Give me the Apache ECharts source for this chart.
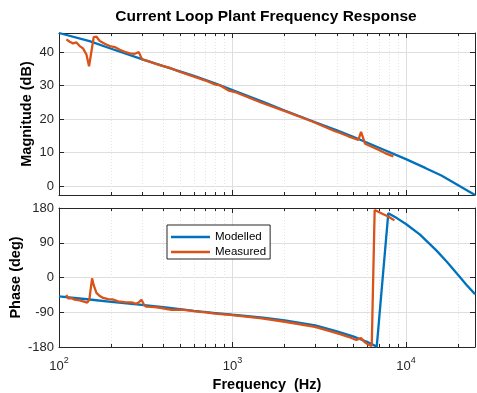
<!DOCTYPE html>
<html>
<head>
<meta charset="utf-8">
<script src="https://cdn.jsdelivr.net/npm/echarts@6/dist/echarts.min.js"></script>
<style>
html,body{margin:0;padding:0;background:#fff;}
#c{width:477px;height:393px;}
</style>
</head>
<body>
<div id="c"></div>
<script>
// ---- Modelled response ----
const modelFreqs = [100,150,200,300,400,600,800,1000,1500,2000,3000,4000,5000,7000,10000,13000,16000,20000,25000];
const modelMag   = [45.7,43.3,41.0,37.9,35.8,32.9,30.6,28.7,25.2,22.6,19.1,16.7,14.7,11.5,8.1,5.4,3.2,0.3,-2.6];

const modelPhaseFreqs = [100,150,200,300,400,600,800,1000,1500,2000,3000,4000,5000,6000,6785,7910,8850,10000,12050,15060,17200,20050,22420,25000];
const modelPhase      = [-49,-57,-63,-71,-76.5,-86.5,-92,-96.5,-104,-111,-124,-139.5,-153,-167,-179,166.5,153.8,138.5,111,69,41,6,-20,-43];

// ---- Measured response ----
const measMagFreqs = [110.3,115.3,120.4,126,131.6,137.5,143.9,149,158.6,164.4,171.8,183.5,196.2,209.6,224,239.4,255.9,273.4,288.4,301.3,326.4,356.6,389.8,435.3,486.1,555.1,648.5,693,791,846,944,1033,1472,2005,2858,3900,4170,4654,5315,5510,5808,6349,6936,7575,8460];
const measMag      = [43.8,43.1,42.6,42.9,41.8,41.1,39.3,35.8,44.5,44.6,43.3,42.5,41.8,41.5,40.7,40.1,39.6,39.5,40.0,37.8,37.3,36.6,36.0,35.3,34.3,33.3,32.1,31.6,30.4,30.1,28.6,28.1,24.9,22.4,19.4,16.4,15.9,14.9,13.8,16.2,12.7,11.8,10.9,9.9,8.9];

const measPhaseFreqs = [110.3,112.7,118,123.2,131.6,140.6,145.5,149.5,155.1,158.5,164.4,172,179.8,191.9,205,219,239.4,262,279.7,290,299,310,319,356.6,389.8,445,508,555,648,707,791,1000,1472,2005,2985,3900,4170,4654,5170,5510,5808,6080,6349,6600,7406,7910,8575];
const measPhase      = [-45,-54,-53.5,-57.5,-59.5,-63,-65,-58,-2,-20,-40,-48,-53,-56,-57,-62,-64,-64.5,-68,-63,-57.6,-72,-75.5,-76.5,-79,-84,-83,-85,-89,-90.5,-93.3,-97.5,-106,-114.6,-128,-142.6,-146.7,-153.6,-162,-157,-168,-174,-177.5,175,164,158,148];

// ---- Axes ticks ----
const decadeTicks = [100, 1000, 10000];
const minorFreqs = [200,300,400,500,600,700,800,900,2000,3000,4000,5000,6000,7000,8000,9000,20000];
const magTicks = [0, 10, 20, 30, 40];
const phaseTicks = [-180, -90, 0, 90, 180];

const AX = '#262626';
const FONT = '"Liberation Sans", Arial, Helvetica, sans-serif';
const BLUE = '#0072BD', ORANGE = '#D95319';
const NAME_STYLE = {fontSize:14.5, fontWeight:'bold', fontFamily:FONT, color:'#000'};

function pairs(xs, ys){ return xs.map((x,i)=>[x, ys[i]]); }

function xAxesFor(grid, withLabels){
  const base = {type:'log', logBase:10, min:100, max:25000, gridIndex:grid};
  return [
    Object.assign({}, base, {
      position:'bottom',
      axisLine:{show:true, onZero:false, lineStyle:{color:AX, width:1}},
      axisTick:{show:true, inside:true, length:5, customValues:decadeTicks, lineStyle:{color:AX}},
      axisLabel:{show:withLabels, customValues:decadeTicks, margin:9.5, color:AX,
        formatter:function(v){ return '{b|10}{s|' + Math.round(Math.log10(v)) + '}'; },
        rich:{ b:{fontSize:13, fontFamily:FONT, color:AX, lineHeight:16, verticalAlign:'bottom'},
               s:{fontSize:9, fontFamily:FONT, color:AX, lineHeight:9, verticalAlign:'top'} } },
      splitLine:{show:true, lineStyle:{color:'#dedede', width:1}},
      name: withLabels ? 'Frequency  (Hz)' : '',
      nameLocation:'middle', nameGap:30, nameMoveOverlap:false,
      nameTextStyle:NAME_STYLE
    }),
    Object.assign({}, base, {
      position:'bottom',
      axisLine:{show:false, onZero:false},
      axisTick:{show:true, inside:true, length:3, customValues:minorFreqs, lineStyle:{color:AX}},
      axisLabel:{show:false},
      splitLine:{show:true, lineStyle:{color:'#e4e4e4', width:1, type:[1,2]}}
    }),
    Object.assign({}, base, {
      position:'top',
      axisLine:{show:true, onZero:false, lineStyle:{color:AX, width:1}},
      axisTick:{show:true, inside:true, length:5, customValues:decadeTicks, lineStyle:{color:AX}},
      axisLabel:{show:false}, splitLine:{show:false}
    }),
    Object.assign({}, base, {
      position:'top',
      axisLine:{show:false, onZero:false},
      axisTick:{show:true, inside:true, length:3, customValues:minorFreqs, lineStyle:{color:AX}},
      axisLabel:{show:false}, splitLine:{show:false}
    })
  ];
}

function yAxesFor(grid, min, max, ticks, name, gap){
  return [
    {type:'value', gridIndex:grid, min:min, max:max, position:'left',
     axisLine:{show:true, onZero:false, lineStyle:{color:AX, width:1}},
     axisTick:{show:true, inside:true, length:5, customValues:ticks, lineStyle:{color:AX}},
     axisLabel:{show:true, customValues:ticks, color:AX, fontSize:13, fontFamily:FONT, margin:5},
     splitLine:{show:true, lineStyle:{color:'#dedede', width:1}},
     name:name, nameLocation:'middle', nameGap:gap, nameMoveOverlap:false,
     nameTextStyle:NAME_STYLE},
    {type:'value', gridIndex:grid, min:min, max:max, position:'right',
     axisLine:{show:true, onZero:false, lineStyle:{color:AX, width:1}},
     axisTick:{show:true, inside:true, length:5, customValues:ticks, lineStyle:{color:AX}},
     axisLabel:{show:false}, splitLine:{show:false}}
  ];
}

const chart = echarts.init(document.getElementById('c'), null, {renderer:'canvas'});
chart.setOption({
  animation:false,
  backgroundColor:'#fff',
  title:{text:'Current Loop Plant Frequency Response', left:261, top:4, textAlign:'center',
         textStyle:{fontSize:15.5, fontWeight:'bold', fontFamily:FONT, color:'#000'}},
  legend:{
    orient:'vertical', left:167, top:225, itemWidth:39, itemHeight:2.5, itemGap:3,
    icon:'rect', padding:[6,4,1,4], borderColor:'#262626', borderWidth:1, backgroundColor:'#fff',
    textStyle:{fontSize:11.5, fontFamily:FONT, color:'#000'},
    data:['Modelled','Measured']
  },
  grid:[
    {left:59, right:2, top:33, height:162},
    {left:59, right:2, top:208, height:141}
  ],
  xAxis: xAxesFor(0,false).concat(xAxesFor(1,true)),
  yAxis: yAxesFor(0,-2.6,45.7,magTicks,'Magnitude (dB)',25).concat(yAxesFor(1,-180,180,phaseTicks,'Phase (deg)',36)),
  series:[
    {name:'Modelled', type:'line', xAxisIndex:0, yAxisIndex:0, data:pairs(modelFreqs, modelMag),
     showSymbol:false, symbol:'none', smooth:false, lineStyle:{color:BLUE, width:2.3}, itemStyle:{color:BLUE}, z:2},
    {name:'Measured', type:'line', xAxisIndex:0, yAxisIndex:0, data:pairs(measMagFreqs, measMag),
     showSymbol:false, symbol:'none', lineStyle:{color:ORANGE, width:2.3}, itemStyle:{color:ORANGE}, z:3},
    {name:'Modelled', type:'line', xAxisIndex:4, yAxisIndex:2, data:pairs(modelPhaseFreqs, modelPhase),
     showSymbol:false, symbol:'none', lineStyle:{color:BLUE, width:2.3}, itemStyle:{color:BLUE}, z:2},
    {name:'Measured', type:'line', xAxisIndex:4, yAxisIndex:2, data:pairs(measPhaseFreqs, measPhase),
     showSymbol:false, symbol:'none', lineStyle:{color:ORANGE, width:2.3}, itemStyle:{color:ORANGE}, z:3}
  ]
});
</script>
</body>
</html>
